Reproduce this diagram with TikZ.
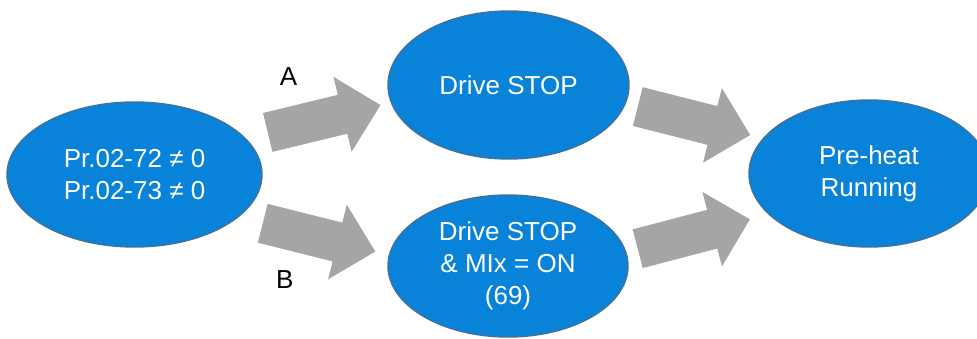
\documentclass[tikz,border=0pt]{standalone}
\usepackage{fontspec}
\setmainfont{Liberation Sans}
\usetikzlibrary{shapes.geometric}
\definecolor{ellfill}{RGB}{8,131,217}
\definecolor{ellline}{RGB}{65,113,156}
\definecolor{arrgray}{RGB}{165,165,165}
\tikzset{
  state/.style={ellipse, draw=ellline, line width=1.4pt, fill=ellfill, text=white,
    inner sep=0pt, align=center, font=\fontsize{26}{32}\selectfont},
  lbl/.style={text=black, inner sep=0pt, font=\fontsize{26}{32}\selectfont},
  blockarrow/.style={fill=arrgray},
}
\newcommand{\blockarr}[3]{%
  \begin{scope}[shift={(#1)}, rotate=#2]
    \fill[blockarrow] (-58,-20) -- (19,-20) -- (19,-38.5) -- (58,0) -- (19,38.5) -- (19,20) -- (-58,20) -- cycle;
  \end{scope}}
\begin{document}
\begin{tikzpicture}[x=1pt,y=1pt]
\useasboundingbox (0,0) rectangle (977,-338);
\clip (0,0) rectangle (977,-338);
\node[state, minimum width=255pt, minimum height=145pt] (start) at (134.5,-174.5) {Pr.02-72 ≠ 0\\Pr.02-73 ≠ 0};
\node[state, minimum width=241pt, minimum height=148pt] (stop) at (508.5,-85) {Drive STOP};
\node[state, minimum width=240pt, minimum height=142pt] (stopmi) at (508,-266) {Drive STOP\\\& MIx = ON\\(69)};
\node[state, minimum width=240pt, minimum height=147pt] (preheat) at (869,-173.5) {Pre-heat\\Running};
\coordinate (arrA) at (324.1,-118.75);
\coordinate (arrB) at (319,-237.4);
\coordinate (arrC) at (694,-120.8);
\coordinate (arrD) at (693.8,-234);
\blockarr{arrA}{13.65}{}
\blockarr{arrB}{-14.1}{}
\blockarr{arrC}{-14.2}{}
\blockarr{arrD}{14.7}{}
\node[lbl] (labA) at (288.5,-77) {A};
\node[lbl] (labB) at (284.7,-280) {B};
\end{tikzpicture}
\end{document}
